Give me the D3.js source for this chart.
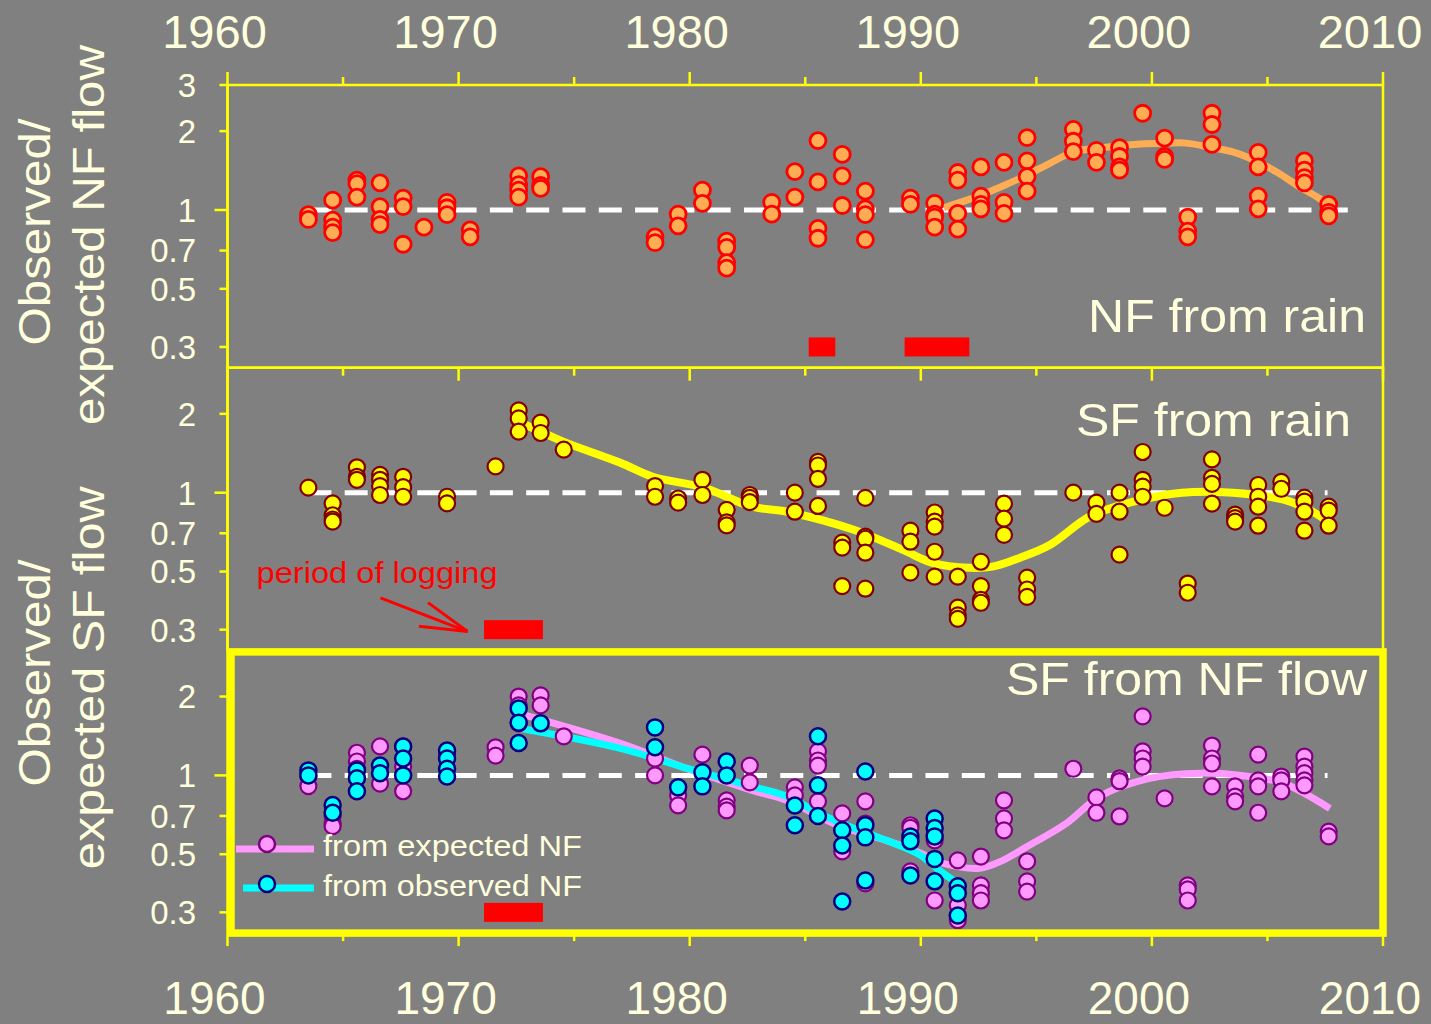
<!DOCTYPE html>
<html>
<head>
<meta charset="utf-8">
<script src="https://cdn.jsdelivr.net/npm/d3@7"></script>
<style>
  html, body { margin: 0; padding: 0; background: #808080; }
  svg { display: block; }
  text { font-family: "Liberation Sans", Arial, Helvetica, sans-serif; }
</style>
</head>
<body>
<svg id="chart" width="1431" height="1024"></svg>
<script>
// ---- axis ticks ----
const yearTicks = [1960, 1970, 1980, 1990, 2000, 2010];
const minorYearTicks = [1965, 1975, 1985, 1995, 2005];
const nfRatioTicks = [3, 2, 1, 0.7, 0.5, 0.3];
const sfRatioTicks = [2, 1, 0.7, 0.5, 0.3];

// ---- NF flow ratio predicted from rain: [year, ratio, ratio, ...] ----
const nfFromRain = [
  [1963.5, 0.96, 0.92],
  [1964.55, 1.09, 0.915, 0.86, 0.82],
  [1965.6, 1.30, 1.26, 1.12],
  [1966.6, 1.27, 1.03, 0.92, 0.88],
  [1967.6, 1.11, 1.03, 0.74],
  [1968.5, 0.86],
  [1969.5, 1.07, 1.02, 0.96],
  [1970.5, 0.84, 0.79],
  [1972.6, 1.35, 1.25, 1.19, 1.12],
  [1973.55, 1.34, 1.24, 1.21],
  [1978.5, 0.79, 0.75],
  [1979.5, 0.965, 0.87],
  [1980.55, 1.19, 1.06],
  [1981.6, 0.76, 0.72, 0.63, 0.60],
  [1983.55, 1.07, 0.965],
  [1984.55, 1.40, 1.12],
  [1985.55, 1.84, 1.28, 0.85, 0.78],
  [1986.6, 1.63, 1.35, 1.04],
  [1987.6, 1.18, 1.01, 0.96, 0.77],
  [1989.55, 1.11, 1.05],
  [1990.6, 1.06, 0.965, 0.94, 0.86],
  [1991.6, 1.39, 1.30, 0.97, 0.845],
  [1992.6, 1.46, 1.13, 1.05, 1.01],
  [1993.6, 1.52, 1.07, 0.97],
  [1994.6, 1.89, 1.54, 1.34, 1.18],
  [1996.6, 2.03, 1.83, 1.67],
  [1997.6, 1.69, 1.52],
  [1998.6, 1.73, 1.60, 1.46, 1.42],
  [1999.6, 2.34],
  [2000.55, 1.88, 1.60, 1.56],
  [2001.55, 0.94, 0.83, 0.79],
  [2002.6, 2.34, 2.12, 1.78],
  [2004.6, 1.66, 1.46, 1.13, 1.01],
  [2006.6, 1.54, 1.42, 1.33, 1.27],
  [2007.65, 1.05, 0.98, 0.95]
];
const nfRainTrend = [
  [1991.0, 1.02], [1992.0, 1.09], [1992.6, 1.14], [1993.55, 1.235], [1994.6, 1.36],
  [1995.6, 1.51], [1996.6, 1.665], [1997.75, 1.725], [1999.5, 1.786], [2000.65, 1.80],
  [2001.5, 1.80], [2002.65, 1.725], [2003.5, 1.665], [2004.4, 1.552], [2005.4, 1.396],
  [2006.4, 1.224], [2007.15, 1.121], [2007.65, 1.045]
];

// ---- SF flow ratio predicted from rain ----
const sfFromRain = [
  [1963.5, 1.045],
  [1964.55, 0.91, 0.82, 0.79, 0.775],
  [1965.6, 1.25, 1.15, 1.12],
  [1966.6, 1.17, 1.12, 1.06, 0.98],
  [1967.6, 1.15, 1.05, 0.965],
  [1969.5, 0.965, 0.91],
  [1971.6, 1.26],
  [1972.6, 2.06, 1.92, 1.71],
  [1973.55, 1.85, 1.69],
  [1974.55, 1.46],
  [1978.5, 1.06, 0.965],
  [1979.5, 0.95, 0.916],
  [1980.55, 1.12, 0.98],
  [1981.6, 0.86, 0.77, 0.75],
  [1982.6, 0.98, 0.955, 0.92],
  [1984.55, 1.0, 0.846],
  [1985.55, 1.31, 1.27, 1.13, 0.89],
  [1986.6, 0.645, 0.617, 0.44],
  [1987.6, 0.955, 0.68, 0.667, 0.59, 0.43],
  [1989.55, 0.716, 0.65, 0.495],
  [1990.6, 0.84, 0.775, 0.742, 0.595, 0.478],
  [1991.6, 0.478, 0.364, 0.34, 0.33],
  [1992.6, 0.545, 0.44, 0.39, 0.38],
  [1993.6, 0.908, 0.796, 0.69],
  [1994.6, 0.474, 0.427, 0.40],
  [1996.6, 1.0],
  [1997.6, 0.916, 0.83],
  [1998.6, 1.0, 0.846, 0.58],
  [1999.6, 1.43, 1.12, 1.055, 0.965],
  [2000.55, 0.876],
  [2001.55, 0.45, 0.415],
  [2002.6, 1.34, 1.14, 1.08, 0.908],
  [2003.6, 0.824, 0.80, 0.775],
  [2004.6, 1.07, 0.965, 0.884, 0.748],
  [2005.6, 1.10, 1.035],
  [2006.6, 0.957, 0.924, 0.846, 0.716],
  [2007.65, 0.884, 0.854, 0.748]
];
const sfRainTrend = [
  [1972.7, 1.85], [1974.5, 1.57], [1977.0, 1.30], [1978.4, 1.15], [1980.6, 1.045],
  [1982.7, 0.884], [1984.2, 0.846], [1987.1, 0.722], [1989.2, 0.606], [1990.5, 0.54],
  [1992.1, 0.517], [1993.1, 0.522], [1994.3, 0.565], [1995.6, 0.633], [1997.3, 0.81],
  [1999.2, 0.924], [2001.3, 1.0], [2003.5, 1.0], [2005.7, 0.94], [2006.8, 0.861],
  [2007.5, 0.789]
];

// ---- SF flow ratio predicted from NF flow ----
const sfFromExpectedNF = [
  [1963.5, 0.99, 0.91],
  [1964.55, 0.70, 0.656, 0.64],
  [1965.6, 1.22, 1.13, 1.06],
  [1966.6, 1.29, 0.93],
  [1967.6, 1.29, 1.08, 0.87],
  [1969.5, 1.21],
  [1971.6, 1.28, 1.19],
  [1972.6, 2.0, 1.85, 1.58],
  [1973.55, 2.02, 1.85],
  [1974.55, 1.41],
  [1978.5, 1.16, 1.0],
  [1979.5, 0.839, 0.768],
  [1980.55, 1.20],
  [1981.6, 0.803, 0.76, 0.735],
  [1982.6, 1.09, 0.94],
  [1984.55, 0.90, 0.839],
  [1985.55, 1.235, 1.14, 1.09, 0.796],
  [1986.6, 0.716, 0.513],
  [1987.6, 0.796, 0.655, 0.387],
  [1989.55, 0.645, 0.63, 0.43],
  [1990.6, 0.565, 0.333],
  [1991.6, 0.474, 0.319, 0.28],
  [1992.6, 0.49, 0.38, 0.355, 0.333],
  [1993.6, 0.803, 0.685, 0.617],
  [1994.6, 0.47, 0.394, 0.36],
  [1996.6, 1.06],
  [1997.6, 0.824, 0.72],
  [1998.6, 0.974, 0.95, 0.697],
  [1999.6, 1.68, 1.235, 1.16, 1.08],
  [2000.55, 0.817],
  [2001.55, 0.38, 0.367, 0.333],
  [2002.6, 1.30, 1.16, 1.11, 0.908],
  [2003.6, 0.908, 0.83, 0.796],
  [2004.6, 1.20, 0.957, 0.908, 0.72],
  [2005.6, 0.99, 0.957, 0.869],
  [2006.6, 1.18, 1.08, 1.02, 0.957, 0.916],
  [2007.65, 0.61, 0.585]
];
const sfFromObservedNF = [
  [1963.5, 1.045, 1.0],
  [1964.55, 0.77, 0.72],
  [1965.6, 1.045, 0.975, 0.87],
  [1966.6, 1.09, 1.02],
  [1967.6, 1.29, 1.16, 1.0],
  [1969.5, 1.245, 1.16, 1.06, 0.99],
  [1972.6, 1.80, 1.59, 1.33],
  [1973.55, 1.58],
  [1978.5, 1.525, 1.28],
  [1979.5, 0.90],
  [1980.55, 1.027, 0.908],
  [1981.6, 1.13, 1.0],
  [1984.55, 0.768, 0.645],
  [1985.55, 1.41, 0.916, 0.70],
  [1986.6, 0.617, 0.54, 0.33],
  [1987.6, 1.035, 0.645, 0.58, 0.397],
  [1989.55, 0.585, 0.56, 0.415],
  [1990.6, 0.685, 0.63, 0.585, 0.48, 0.394],
  [1991.6, 0.377, 0.355, 0.292]
];
const expectedNFTrend = [
  [1972.9, 1.695], [1977.0, 1.325], [1979.9, 1.06], [1982.7, 0.877], [1984.2, 0.803],
  [1986.4, 0.645], [1988.5, 0.565], [1990.0, 0.504], [1990.8, 0.466], [1992.55, 0.442],
  [1993.55, 0.474], [1994.6, 0.535], [1996.3, 0.656], [1997.75, 0.832], [1999.9, 0.974],
  [2002.1, 1.02], [2004.2, 0.99], [2005.7, 0.932], [2007.7, 0.748]
];
const observedNFTrend = [
  [1972.7, 1.51], [1977.0, 1.268], [1979.9, 1.063], [1982.7, 0.908], [1984.2, 0.832],
  [1985.6, 0.716], [1987.1, 0.628], [1988.5, 0.565], [1990.0, 0.495], [1990.8, 0.434],
  [1991.6, 0.387]
];

// ---- logging periods, drawn as bars at ratio 0.3 ----
const nfLogging = [[1985.15, 1986.3], [1989.3, 1992.1]];
const sfLogging = [[1971.1, 1973.65]];

// ---- ratio = 1 reference line spans ----
const nfReferenceSpan = [1963.5, 2008.7];
const sfReferenceSpan = [1963.5, 2007.6];

// ---------------------------------------------------------------
const svg = d3.select("#chart");
const W = 1431, H = 1024;
const cream = "#FFFFDD";
const axisYellow = "#FFFF00";

svg.append("rect").attr("width", W).attr("height", H).attr("fill", "#808080");

const plotLeft = 227.5, plotRight = 1383;
const panelHeight = 282.7;
const panelTops = [85, 367.7, 650.4];

const x = d3.scaleLinear().domain([1960, 2010]).range([plotLeft, plotRight]);
const yScales = panelTops.map(t => d3.scaleLog().domain([0.25, 3]).range([t + panelHeight, t]));

const flatten = rows => rows.flatMap(r => r.slice(1).map(v => ({ year: r[0], value: v })));

// ---- panel frames and y axes ----
function drawYAxis(y, ticks) {
  const g = svg.append("g");
  ticks.forEach(t => {
    const len = t === 1 ? 13 : 8;
    g.append("line")
      .attr("x1", plotLeft - len).attr("x2", plotLeft)
      .attr("y1", y(t)).attr("y2", y(t))
      .attr("stroke", axisYellow).attr("stroke-width", 2.5);
    g.append("text")
      .attr("x", 196).attr("y", y(t)).attr("dy", "0.36em")
      .attr("text-anchor", "end")
      .attr("fill", cream).attr("font-size", 33)
      .text(String(t));
  });
}

// panel 1 & 2 thin frames
[0, 1].forEach(i => {
  const y = yScales[i];
  svg.append("rect")
    .attr("x", plotLeft).attr("y", y.range()[1])
    .attr("width", plotRight - plotLeft).attr("height", panelHeight)
    .attr("fill", "none").attr("stroke", axisYellow).attr("stroke-width", 2.5);
});
// y axis line running through all panels
svg.append("line")
  .attr("x1", plotLeft).attr("x2", plotLeft)
  .attr("y1", panelTops[0]).attr("y2", panelTops[2] + panelHeight)
  .attr("stroke", axisYellow).attr("stroke-width", 2.5);

drawYAxis(yScales[0], nfRatioTicks);
drawYAxis(yScales[1], sfRatioTicks);
drawYAxis(yScales[2], sfRatioTicks);

// ---- x ticks ----
const xTickG = svg.append("g");
function xTicks(yPos, dir) {
  yearTicks.concat(minorYearTicks).forEach(yr => {
    const major = yearTicks.includes(yr);
    const len = major ? 13 : 8;
    xTickG.append("line")
      .attr("x1", x(yr)).attr("x2", x(yr))
      .attr("y1", yPos).attr("y2", yPos + dir * len)
      .attr("stroke", axisYellow).attr("stroke-width", 2.5);
  });
}
xTicks(panelTops[0], -1);
xTicks(panelTops[1], 1);
xTicks(panelTops[2] + panelHeight, 1);

// year labels, top and bottom
yearTicks.forEach(yr => {
  svg.append("text").attr("x", x(yr) - 13).attr("y", 48)
    .attr("text-anchor", "middle").attr("fill", cream).attr("font-size", 47).text(yr);
  svg.append("text").attr("x", x(yr) - 13).attr("y", 1014)
    .attr("text-anchor", "middle").attr("fill", cream).attr("font-size", 46).text(yr);
});

// ---- y axis titles ----
function yTitle(lines, centers, baselines, lengths) {
  lines.forEach((s, i) => {
    svg.append("text")
      .attr("transform", `translate(${baselines[i]},${centers[i]}) rotate(-90)`)
      .attr("text-anchor", "middle")
      .attr("fill", cream).attr("font-size", 44)
      .attr("textLength", lengths[i]).attr("lengthAdjust", "spacingAndGlyphs")
      .text(s);
  });
}
yTitle(["Observed/", "expected NF flow"], [232, 235], [50, 104], [227, 380]);
yTitle(["Observed/", "expected SF flow"], [673, 678], [50, 104], [227, 383]);

// ---- shared drawing helpers ----
function referenceLine(y, span) {
  svg.append("line")
    .attr("x1", x(span[0])).attr("x2", x(span[1]))
    .attr("y1", y(1)).attr("y2", y(1))
    .attr("stroke", "#FFFFFF").attr("stroke-width", 5)
    .attr("stroke-dasharray", "23,13.3");
}
function loggingBars(y, periods) {
  svg.append("g").selectAll("rect").data(periods).join("rect")
    .attr("x", d => x(d[0])).attr("width", d => x(d[1]) - x(d[0]))
    .attr("y", y(0.3) - 9.5).attr("height", 19)
    .attr("fill", "#FF0000");
}
function trend(y, pts, color, width) {
  const line = d3.line().x(d => x(d[0])).y(d => y(d[1])).curve(d3.curveCatmullRom.alpha(0.5));
  svg.append("path").datum(pts).attr("d", line)
    .attr("fill", "none").attr("stroke", color).attr("stroke-width", width)
    .attr("stroke-linecap", "butt").attr("stroke-linejoin", "round");
}
function dots(y, rows, fill, stroke, sw) {
  svg.append("g").selectAll("circle").data(flatten(rows)).join("circle")
    .attr("cx", d => x(d.year)).attr("cy", d => y(d.value)).attr("r", 8)
    .attr("fill", fill).attr("stroke", stroke).attr("stroke-width", sw);
}
function panelLabel(y, text, xEnd, val, len) {
  svg.append("text").attr("x", xEnd).attr("y", y(val))
    .attr("text-anchor", "end").attr("fill", cream).attr("font-size", 47)
    .attr("textLength", len).attr("lengthAdjust", "spacingAndGlyphs")
    .text(text);
}

// ---- panel 1: NF from rain ----
const y1 = yScales[0];
referenceLine(y1, nfReferenceSpan);
loggingBars(y1, nfLogging);
trend(y1, nfRainTrend, "#FFAD55", 7);
dots(y1, nfFromRain, "#FFAD55", "#FF0000", 2.8);
panelLabel(y1, "NF from rain", 1366, 0.342, 278);

// ---- panel 2: SF from rain ----
const y2 = yScales[1];
referenceLine(y2, sfReferenceSpan);
loggingBars(y2, sfLogging);
trend(y2, sfRainTrend, "#FFFF00", 8);
dots(y2, sfFromRain, "#FFFF00", "#800000", 2.2);
panelLabel(y2, "SF from rain", 1351, 1.65, 275);

// "period of logging" annotation with open arrow
const noteStart = [1966.62, 0.397], noteTip = [1970.39, 0.295];
svg.append("text").attr("x", x(1961.26)).attr("y", y2(0.453))
  .attr("fill", "#FF0000").attr("font-size", 29)
  .attr("textLength", 241).attr("lengthAdjust", "spacingAndGlyphs")
  .text("period of logging");
{
  const sx = x(noteStart[0]), sy = y2(noteStart[1]);
  const tx = x(noteTip[0]), ty = y2(noteTip[1]);
  const ang = Math.atan2(sy - ty, sx - tx);
  const headLen = 49, spread = 15 * Math.PI / 180;
  const arrow = svg.append("g").attr("stroke", "#FF0000").attr("stroke-width", 3).attr("fill", "none");
  arrow.append("line").attr("x1", sx).attr("y1", sy).attr("x2", tx).attr("y2", ty);
  [-spread, spread].forEach(s => {
    arrow.append("line").attr("x1", tx).attr("y1", ty)
      .attr("x2", tx + headLen * Math.cos(ang + s)).attr("y2", ty + headLen * Math.sin(ang + s));
  });
}

// ---- panel 3: SF from NF flow ----
const y3 = yScales[2];
referenceLine(y3, sfReferenceSpan);
loggingBars(y3, sfLogging);
trend(y3, expectedNFTrend, "#FF99FF", 7);
trend(y3, observedNFTrend, "#00FFFF", 7);
dots(y3, sfFromExpectedNF, "#FF99FF", "#800080", 2.2);
dots(y3, sfFromObservedNF, "#00FFFF", "#000080", 2.5);
panelLabel(y3, "SF from NF flow", 1367, 2.03, 361);

// thick frame of panel 3
svg.append("rect")
  .attr("x", 231).attr("y", y3.range()[1] + 1.5)
  .attr("width", plotRight - 231).attr("height", panelHeight - 1.5)
  .attr("fill", "none").attr("stroke", axisYellow).attr("stroke-width", 7.5);

// legend
const legend = [
  { label: "from expected NF", fill: "#FF99FF", stroke: "#800080", x0: 236, lineY: 849, dotY: 844, textY: 856 },
  { label: "from observed NF", fill: "#00FFFF", stroke: "#000080", x0: 243, lineY: 888, dotY: 884, textY: 896 }
];
legend.forEach(d => {
  svg.append("line").attr("x1", d.x0).attr("x2", 314).attr("y1", d.lineY).attr("y2", d.lineY)
    .attr("stroke", d.fill).attr("stroke-width", 7);
  svg.append("circle").attr("cx", 267).attr("cy", d.dotY).attr("r", 8)
    .attr("fill", d.fill).attr("stroke", d.stroke).attr("stroke-width", 2.5);
  svg.append("text").attr("x", 323).attr("y", d.textY)
    .attr("fill", cream).attr("font-size", 30)
    .attr("textLength", 259).attr("lengthAdjust", "spacingAndGlyphs")
    .text(d.label);
});
</script>
</body>
</html>
